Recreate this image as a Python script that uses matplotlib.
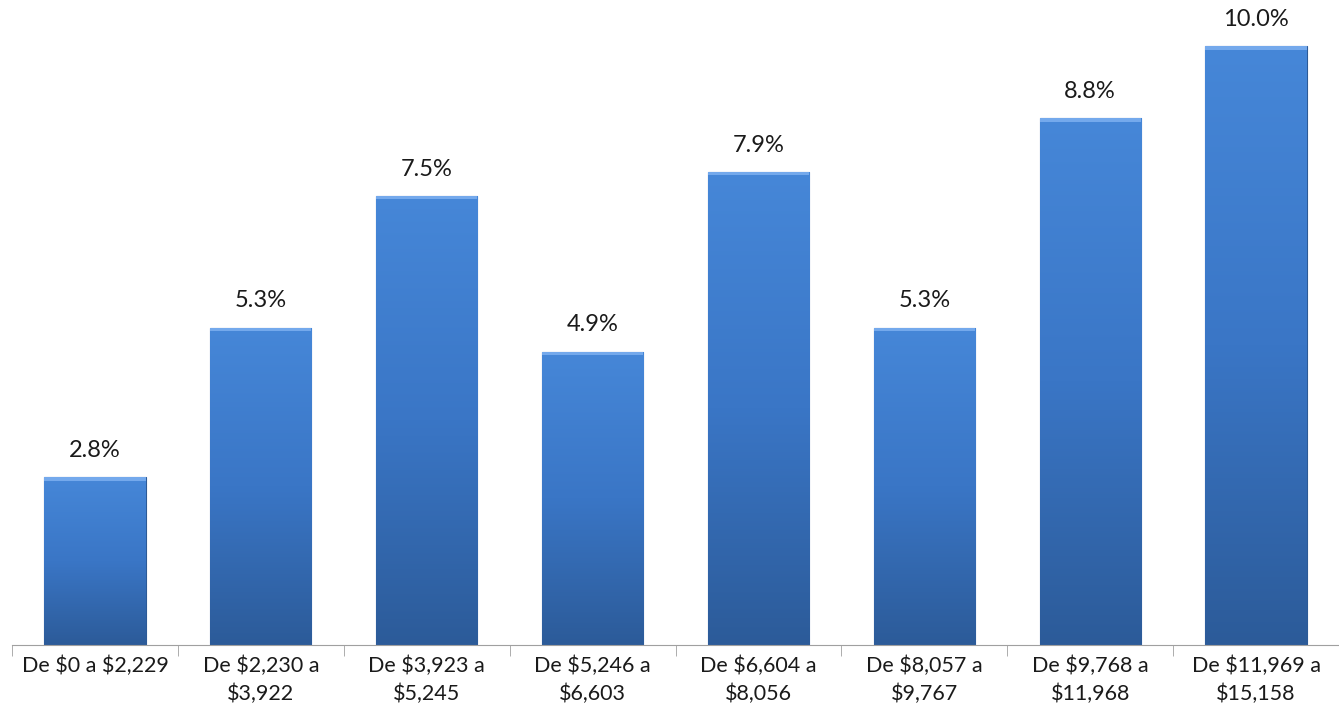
import matplotlib.pyplot as plt
import numpy as np
from matplotlib.colors import LinearSegmentedColormap

categories = ["De $0 a $2,229", "De $2,230 a\n$3,922", "De $3,923 a\n$5,245",
              "De $5,246 a\n$6,603", "De $6,604 a\n$8,056", "De $8,057 a\n$9,767",
              "De $9,768 a\n$11,968", "De $11,969 a\n$15,158"]
values = [2.8, 5.3, 7.5, 4.9, 7.9, 5.3, 8.8, 10.0]

plt.rcParams['font.family'] = ['Lato', 'DejaVu Sans']
plt.rcParams['text.parse_math'] = False  # dollar signs are literal

fig = plt.figure(figsize=(13.39, 7.26), dpi=100)
ax = fig.add_axes([12 / 1339, 81 / 726, 1327 / 1339, 645 / 726])

x = np.arange(len(values))
width = 0.61
bars = ax.bar(x, values, width=width, color='#3a75c4', edgecolor='#2c5a96', linewidth=0.8, zorder=2)

# vertical gradient inside each bar (light top, darker bottom)
cmap = LinearSegmentedColormap.from_list('bar', ['#2c5b99', '#3a76c6', '#4687d8'])
grad = np.linspace(0, 1, 256).reshape(-1, 1)
for b in bars:
    x0, y0 = b.get_x(), b.get_y()
    w, h = b.get_width(), b.get_height()
    im = ax.imshow(grad, cmap=cmap, aspect='auto', origin='lower',
                   extent=[x0, x0 + w, y0, y0 + h], zorder=2.5)
    im.set_clip_path(b)
    # light bevel on top
    ax.bar(x0 + w / 2, 0.06, bottom=y0 + h - 0.06, width=w, color='#74a9ec', linewidth=0, zorder=3)

for xi, v in zip(x, values):
    ax.text(xi, v + 0.27, f"{v:.1f}%", ha='center', va='bottom', fontsize=17, color='#1a1a1a')

ax.set_xlim(-0.5, len(values) - 0.5)
ax.set_ylim(0, 10.77)
ax.set_xticks(x)
ax.set_xticklabels(categories, fontsize=15.5, color='#1a1a1a', linespacing=1.45)
ax.set_xticks(np.arange(len(values) + 1) - 0.5, minor=True)
ax.tick_params(axis='x', which='major', length=0, pad=8)
ax.tick_params(axis='x', which='minor', length=8, color='#a0a0a0')
ax.set_yticks([])
for s in ['top', 'right', 'left']:
    ax.spines[s].set_visible(False)
ax.spines['bottom'].set_color('#a0a0a0')
ax.set_facecolor('none')

fig.savefig('out.png', dpi=100)
